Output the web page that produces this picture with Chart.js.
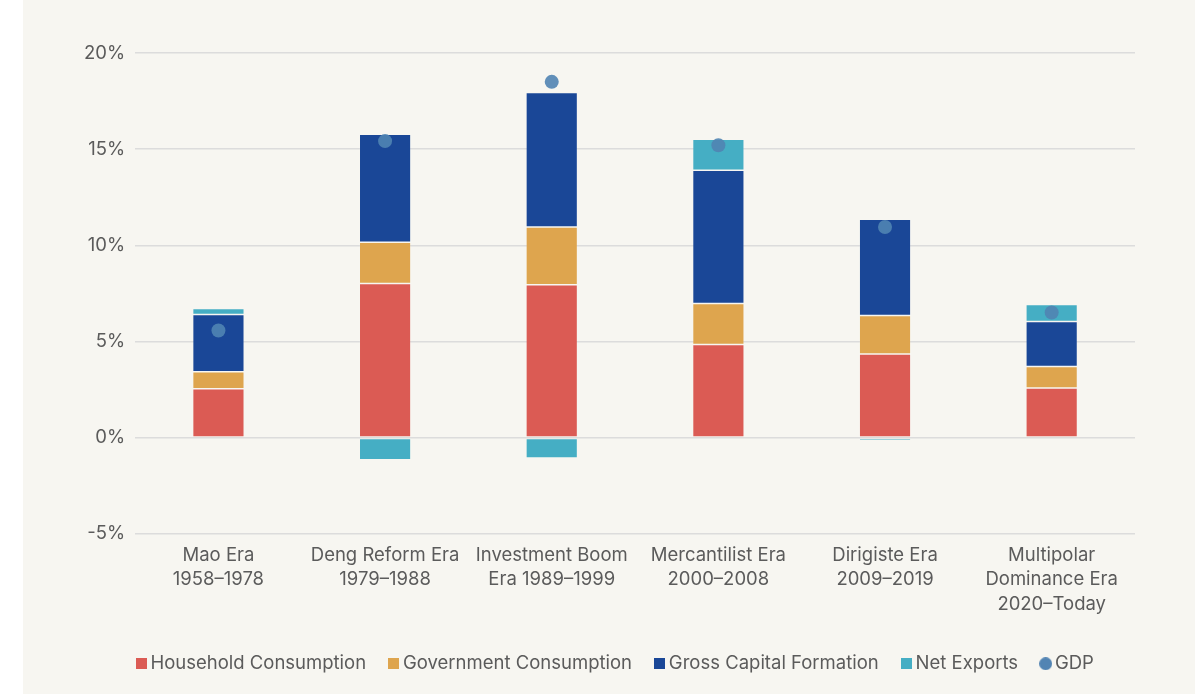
<!DOCTYPE html>
<html>
<head>
<meta charset="utf-8">
<script src="https://cdn.jsdelivr.net/npm/chart.js@4.4.1/dist/chart.umd.min.js"></script>
<style>
  body { margin: 0; background: #ffffff; }
  #wrap { position: absolute; left: 23px; top: 0; width: 1172px; height: 694px; background: #f7f6f1; }
</style>
</head>
<body>
<div id="wrap"><canvas id="eras" width="1172" height="694"></canvas></div>
<script>
// chart data
const eras = [
  ["Mao Era", "1958\u20131978"],
  ["Deng Reform Era", "1979\u20131988"],
  ["Investment Boom", "Era 1989\u20131999"],
  ["Mercantilist Era", "2000\u20132008"],
  ["Dirigiste Era", "2009\u20132019"],
  ["Multipolar", "Dominance Era", "2020\u2013Today"]
];
const household = [2.55, 8.02, 7.95, 4.85, 4.35, 2.58];
const government = [0.88, 2.14, 3.0, 2.13, 2.0, 1.12];
const capitalFormation = [2.97, 5.62, 7.0, 6.92, 5.0, 2.34];
const netExports = [0.31, -1.15, -1.05, 1.62, -0.15, 0.88];
const gdp = [5.57, 15.42, 18.5, 15.2, 10.95, 6.51];
const yTicks = [-5, 0, 5, 10, 15, 20];

const textColor = "#5b5b5b";
const fontFamily = "Inter, 'Liberation Sans', sans-serif";

// small legend markers
function marker(kind, color) {
  const c = document.createElement("canvas");
  const s = kind === "circle" ? 13 : 11;
  c.width = s; c.height = s;
  const g = c.getContext("2d");
  g.fillStyle = color;
  if (kind === "circle") {
    g.beginPath();
    g.arc(s / 2, s / 2, s / 2, 0, Math.PI * 2);
    g.fill();
  } else {
    g.fillRect(0, 0, s, s);
  }
  return c;
}

function barSet(label, data, color) {
  return {
    type: "bar",
    label: label,
    data: data,
    backgroundColor: color,
    borderColor: "rgba(255,255,255,0.12)",
    borderWidth: 0.75,
    borderSkipped: false,
    stack: "parts",
    order: 1,
    legendMarker: marker("rect", color)
  };
}

// nudge the legend sideways a bit
const legendShift = {
  id: "legendShift",
  afterLayout(chart) {
    chart.legend.left += 13;
    chart.legend.right += 13;
  }
};

const ctx = document.getElementById("eras").getContext("2d");
new Chart(ctx, {
  data: {
    labels: eras,
    datasets: [
      barSet("Household Consumption", household, "#db5b54"),
      barSet("Government Consumption", government, "#dea54e"),
      barSet("Gross Capital Formation", capitalFormation, "#1a4797"),
      barSet("Net Exports", netExports, "#45aec4"),
      {
        type: "line",
        label: "GDP",
        data: gdp,
        showLine: false,
        stack: "gdp",
        order: 0,
        pointRadius: 7,
        pointHoverRadius: 7,
        pointBackgroundColor: "rgba(80,132,178,0.9)",
        pointBorderColor: "rgba(80,132,178,0.9)",
        pointBorderWidth: 0,
        legendMarker: marker("circle", "#5284b3")
      }
    ]
  },
  plugins: [legendShift],
  options: {
    responsive: false,
    animation: false,
    layout: { padding: { left: 51, right: 60, top: 53, bottom: 11 } },
    datasets: {
      bar: { categoryPercentage: 1, barPercentage: 0.31 }
    },
    scales: {
      x: {
        stacked: true,
        grid: { display: false },
        border: { display: false },
        afterFit: (axis) => { axis.height += 9; },
        ticks: {
          color: textColor,
          font: { family: fontFamily, size: 18.5, lineHeight: 1.3 },
          maxRotation: 0,
          autoSkip: false,
          padding: 2
        }
      },
      y: {
        stacked: true,
        min: -5,
        max: 20,
        afterBuildTicks: (axis) => { axis.ticks = yTicks.map(v => ({ value: v })); },
        grid: { color: "#dcdcdc", lineWidth: 1.5, drawTicks: false },
        border: { display: false },
        ticks: {
          color: textColor,
          padding: 10,
          font: { family: fontFamily, size: 18.5 },
          callback: (v) => v + "%"
        }
      }
    },
    plugins: {
      tooltip: { enabled: false },
      legend: {
        position: "bottom",
        labels: {
          color: textColor,
          font: { family: fontFamily, size: 18.5 },
          usePointStyle: true,
          boxHeight: 12,
          pointStyleWidth: 0.1,
          padding: 27.5,
          generateLabels: (chart) => chart.data.datasets.map((ds, i) => ({
            text: ds.label,
            datasetIndex: i,
            pointStyle: ds.legendMarker,
            fillStyle: "transparent",
            strokeStyle: "transparent",
            lineWidth: 0,
            fontColor: textColor,
            hidden: false
          }))
        }
      }
    }
  }
});
</script>
</body>
</html>
